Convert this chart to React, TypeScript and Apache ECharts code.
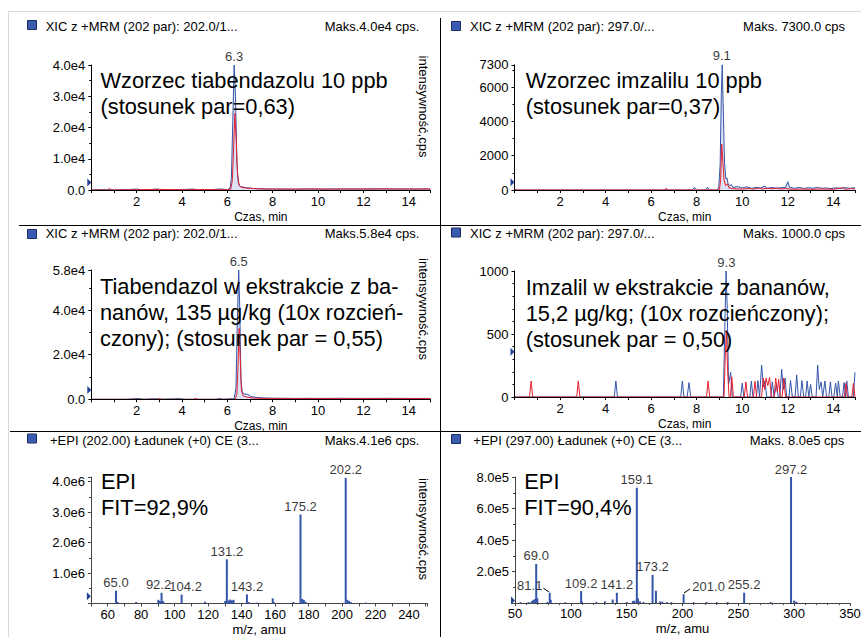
import React, { useEffect, useRef } from "react";
import * as echarts from "echarts";

const FONT = '"Liberation Sans", Arial, Helvetica, sans-serif';
const BLUE = "#3355aa";
const RED = "#e8202e";
const AXIS = "#000";

// ---------- chromatogram data: [time (min), intensity (cps)] ----------
const p1Blue: [number, number][] = [
  [0, 0], [0.5, 150], [1.0, 0], [1.5, 100], [2.0, 300], [2.3, 0], [2.9, 300], [3.2, 0],
  [4.0, 150], [4.5, 300], [4.8, 0], [5.3, 100], [5.7, 350], [6.0, 100], [6.12, 600],
  [6.18, 4000], [6.24, 22000], [6.3, 40000], [6.36, 30000], [6.42, 9000], [6.48, 2500],
  [6.55, 1200], [6.65, 1000], [6.8, 800], [7.0, 600], [7.3, 400], [7.8, 300], [8.5, 300],
  [9.0, 250], [9.5, 350], [10.0, 250], [10.5, 350], [11.0, 300], [11.5, 350], [12.0, 300],
  [12.5, 400], [13.0, 300], [13.5, 350], [14.0, 300], [14.5, 350], [14.95, 300],
];
const p1Red: [number, number][] = [
  [0, 0], [0.7, 0], [0.8, 500], [0.9, 0], [2.0, 100], [3.0, 200], [4.0, 100], [5.0, 150],
  [6.0, 100], [6.15, 300], [6.22, 3000], [6.28, 14000], [6.33, 24500], [6.39, 16000],
  [6.45, 5000], [6.52, 1500], [6.6, 900], [6.75, 700], [7.0, 500], [7.5, 350], [8.0, 300],
  [9.0, 300], [10.0, 350], [10.5, 250], [11.0, 350], [11.5, 300], [12.0, 350], [12.5, 300],
  [13.0, 400], [13.5, 300], [14.0, 350], [14.5, 300], [14.95, 350],
];
const p2Blue: [number, number][] = [
  [0, 0], [7.8, 0], [7.9, 150], [8.0, 0], [8.4, 0], [8.47, 160], [8.55, 0], [8.9, 0],
  [8.97, 200], [9.03, 1500], [9.08, 5500], [9.12, 7300], [9.17, 4500], [9.22, 1600],
  [9.28, 650], [9.33, 700], [9.38, 350], [9.45, 250], [9.52, 320], [9.6, 150], [9.8, 200],
  [10.0, 120], [10.2, 180], [10.4, 100], [10.6, 150], [10.8, 120], [11.0, 220], [11.1, 100],
  [11.3, 150], [11.5, 100], [11.7, 130], [11.9, 150], [12.0, 480], [12.08, 150], [12.3, 100],
  [12.5, 150], [12.7, 90], [12.9, 130], [13.1, 100], [13.3, 150], [13.5, 100], [13.7, 120],
  [13.9, 80], [14.1, 130], [14.3, 100], [14.5, 140], [14.7, 100], [14.95, 130],
];
const p2Red: [number, number][] = [
  [0, 0], [6.6, 0], [6.66, 110], [6.72, 0], [9.0, 0], [9.05, 600], [9.1, 2670], [9.15, 1600],
  [9.2, 600], [9.27, 250], [9.35, 350], [9.42, 120], [9.6, 80], [10.0, 50], [10.3, 90],
  [10.5, 50], [10.7, 110], [10.9, 60], [11.1, 100], [11.3, 70], [11.5, 120], [11.7, 60],
  [11.9, 90], [12.2, 40], [12.6, 60], [13.0, 40], [13.5, 60], [14.0, 40], [14.4, 130],
  [14.5, 40], [14.8, 90], [14.95, 60],
];
const p3Blue: [number, number][] = [
  [0, 0], [1.5, 0], [2.1, 350], [2.3, 0], [2.8, 300], [3.0, 0], [3.9, 300], [4.1, 0],
  [5.5, 0], [5.65, 350], [5.8, 0], [6.3, 300], [6.38, 5000], [6.44, 35000], [6.5, 58000],
  [6.55, 40000], [6.6, 9000], [6.66, 3000], [6.75, 2400], [6.9, 2200], [7.05, 1200],
  [7.3, 800], [7.6, 600], [8.0, 500], [8.5, 450], [9.0, 400], [9.5, 450], [10.0, 400],
  [11.0, 450], [12.0, 400], [13.0, 450], [14.0, 400], [14.95, 400],
];
const p3Red: [number, number][] = [
  [0, 0], [2.9, 0], [3.0, 400], [3.1, 0], [4.5, 0], [4.6, 400], [4.7, 0], [6.35, 0],
  [6.42, 2500], [6.47, 15000], [6.52, 31800], [6.57, 18000], [6.62, 4000], [6.7, 1500],
  [6.85, 1000], [7.1, 600], [7.5, 400], [8.0, 350], [9.0, 300], [10.0, 350], [11.0, 300],
  [12.0, 350], [13.0, 300], [14.0, 350], [14.95, 300],
];
const p4Blue: [number, number][] = [
  [0, 0], [4.38, 0], [4.45, 127], [4.52, 0], [7.3, 0], [7.37, 127], [7.44, 0], [7.58, 0],
  [7.66, 114], [7.74, 0], [9.17, 0], [9.24, 600], [9.29, 1000], [9.34, 700], [9.4, 100],
  [9.49, 196], [9.56, 0], [9.93, 0], [10.0, 110], [10.07, 0], [10.33, 0], [10.4, 127],
  [10.47, 0], [10.62, 0], [10.69, 130], [10.76, 0], [10.85, 254], [10.93, 80], [11.0, 130],
  [11.07, 0], [11.25, 0], [11.32, 120], [11.4, 0], [11.5, 100], [11.58, 0], [11.65, 0],
  [11.73, 220], [11.8, 60], [11.88, 150], [11.95, 0], [12.05, 0], [12.12, 130], [12.2, 0],
  [12.32, 0], [12.39, 175], [12.46, 0], [12.55, 0], [12.62, 130], [12.7, 0], [12.78, 0],
  [12.85, 127], [12.92, 0], [13.0, 100], [13.07, 0], [13.24, 0], [13.31, 254], [13.38, 60],
  [13.46, 120], [13.53, 0], [13.63, 127], [13.7, 0], [13.8, 0], [13.87, 120], [13.94, 0],
  [14.02, 0], [14.1, 110], [14.17, 0], [14.22, 127], [14.3, 0], [14.4, 0], [14.47, 115],
  [14.54, 0], [14.59, 127], [14.66, 0], [14.88, 0], [14.95, 196],
];
const p4Red: [number, number][] = [
  [0, 0], [0.66, 0], [0.73, 127], [0.8, 0], [2.73, 0], [2.8, 127], [2.87, 0], [8.43, 0],
  [8.5, 127], [8.57, 0], [9.2, 0], [9.26, 350], [9.3, 530], [9.36, 200], [9.42, 0],
  [9.48, 0], [9.54, 160], [9.61, 0], [10.09, 0], [10.16, 120], [10.23, 0], [10.49, 0],
  [10.56, 125], [10.63, 0], [10.85, 0], [10.92, 150], [10.98, 60], [11.05, 150], [11.12, 90],
  [11.2, 155], [11.28, 0], [11.4, 0], [11.47, 150], [11.54, 40], [11.6, 140], [11.67, 0],
  [11.75, 0], [11.82, 150], [11.9, 0], [14.48, 0], [14.55, 108], [14.62, 0], [14.81, 0],
  [14.88, 108], [14.95, 0],
];

// chromatogram apex labels [time, intensity]
const p1Apex: [number, number][] = [[6.3, 40000]];
const p2Apex: [number, number][] = [[9.1, 7300]];
const p3Apex: [number, number][] = [[6.5, 58000]];
const p4Apex: [number, number][] = [[9.3, 1000]];

// ---------- EPI spectra: m/z and intensity ----------
const p5Mz = [56, 65.0, 66, 77, 90.3, 91.2, 92.2, 93.2, 104.2, 118.2, 130.2, 131.2, 132.2, 133.2, 134.2, 135.2, 143.2, 144.2, 149, 158.6, 159.2, 171, 175.2, 176.2, 177.2, 178.2, 202.2, 203.2, 204.2, 205.2, 214.2];
const p5Int = [0.02e6, 0.42e6, 0.05e6, 0.05e6, 0.12e6, 0.08e6, 0.35e6, 0.08e6, 0.29e6, 0.06e6, 0.08e6, 1.45e6, 0.1e6, 0.13e6, 0.1e6, 0.12e6, 0.3e6, 0.05e6, 0.03e6, 0.17e6, 0.05e6, 0.05e6, 2.92e6, 0.15e6, 0.12e6, 0.06e6, 4.12e6, 0.12e6, 0.08e6, 0.05e6, 0.03e6];
const p5LabelMz = [65.0, 92.2, 104.2, 131.2, 143.2, 175.2, 202.2];
const p5LabelInt = [0.42e6, 0.35e6, 0.29e6, 1.45e6, 0.3e6, 2.92e6, 4.12e6];

const p6Mz = [55, 62, 65, 66.5, 68, 69.0, 70, 79, 81.1, 82, 95, 109.2, 110, 123, 130.6, 137.5, 141.2, 150, 155.6, 157, 159.1, 160.1, 161.9, 165, 173.2, 176.2, 180, 182, 186, 190, 201.0, 210, 221.6, 230.6, 240.4, 255.2, 279, 297.2, 300, 302];
const p6Int = [0.05e5, 0.06e5, 0.12e5, 0.2e5, 0.25e5, 2.48e5, 0.3e5, 0.06e5, 0.65e5, 0.2e5, 0.05e5, 0.76e5, 0.1e5, 0.06e5, 0.1e5, 0.22e5, 0.65e5, 0.06e5, 0.12e5, 0.15e5, 7.32e5, 0.3e5, 0.1e5, 0.06e5, 1.78e5, 0.78e5, 0.1e5, 0.08e5, 0.06e5, 0.05e5, 0.55e5, 0.05e5, 0.06e5, 0.05e5, 0.06e5, 0.65e5, 0.06e5, 8.0e5, 0.15e5, 0.08e5];
const p6LabelMz = [69.0, 81.1, 109.2, 141.2, 159.1, 173.2, 201.0, 255.2, 297.2];
const p6LabelInt = [2.48e5, 0.65e5, 0.76e5, 0.65e5, 7.32e5, 1.78e5, 0.55e5, 0.65e5, 8.0e5];

// threshold markers (intensity level of the small triangle on each y-axis)
const markerLevels = [2400, 450, 4170, 360, 0.236e6, 0.16e5];

// texts
const titles = [
  "XIC z +MRM (202 par): 202.0/1...",
  "XIC z +MRM (202 par): 297.0/...",
  "XIC z +MRM (202 par): 202.0/1...",
  "XIC z +MRM (202 par): 297.0/...",
  "+EPI (202.00) Ładunek (+0) CE (3...",
  "+EPI (297.00) Ładunek (+0) CE (3...",
];
const maxTexts = ["Maks.4.0e4 cps.", "Maks. 7300.0 cps", "Maks.5.8e4 cps.", "Maks. 1000.0 cps", "Maks.4.1e6 cps.", "Maks. 8.0e5 cps"];
const notes = [
  ["Wzorzec tiabendazolu 10 ppb", "(stosunek par=0,63)"],
  ["Wzorzec imzalilu 10 ppb", "(stosunek par=0,37)"],
  ["Tiabendazol w ekstrakcie z ba-", "nanów, 135 µg/kg (10x rozcień-", "czony); (stosunek par = 0,55)"],
  ["Imzalil w ekstrakcie z bananów,", "15,2 µg/kg; (10x rozcieńczony);", "(stosunek par = 0,50)"],
  ["EPI", "FIT=92,9%"],
  ["EPI", "FIT=90,4%"],
];

const fmtExp = (v: number) => (v === 0 ? "0.0" : v.toExponential(1).replace("e+", "e"));

function buildOption() {
  const grids = [
    { left: 91.3, top: 65, width: 339, height: 125 },
    { left: 514.5, top: 64.8, width: 340.5, height: 125.2 },
    { left: 91.3, top: 270, width: 339, height: 129.3 },
    { left: 514.5, top: 271, width: 340.5, height: 126 },
    { left: 90.9, top: 477, width: 336.5, height: 126.5 },
    { left: 515, top: 477, width: 335, height: 126 },
  ].map((g) => ({ ...g, outerBoundsMode: "none", containLabel: false, show: false }));

  const labelStyle = { fontSize: 13, color: "#000", fontFamily: FONT };

  const chromX = (gi: number) => ({
    type: "value", gridIndex: gi, min: 0, max: 14.95, interval: 1, z: 3,
    axisLine: { show: true, lineStyle: { color: AXIS, width: 1 } },
    axisTick: { show: true, length: 3, lineStyle: { color: AXIS } },
    axisLabel: {
      show: true, interval: 0, margin: 5, ...labelStyle,
      formatter: (v: number) => (v > 0 && Math.abs(v % 2) < 1e-9 ? String(v) : ""),
    },
    splitLine: { show: false },
    name: "Czas, min", nameLocation: "middle", nameGap: 21,
    nameTextStyle: { fontSize: 12, color: "#000", fontFamily: FONT },
  });
  const yAx = (gi: number, max: number, interval: number, minor: number, fmt: (v: number) => string, color = AXIS) => ({
    type: "value", gridIndex: gi, min: 0, max, interval, z: 3,
    axisLine: { show: true, lineStyle: { color, width: 1 } },
    axisTick: { show: true, length: 3, lineStyle: { color } },
    minorTick: { show: true, splitNumber: minor, length: 2, lineStyle: { color } },
    axisLabel: { show: true, margin: 6, ...labelStyle, formatter: fmt },
    splitLine: { show: false },
    minorSplitLine: { show: false },
  });

  const SPEC_AXIS = "#444";
  const xAxis = [
    chromX(0), chromX(1), chromX(2), chromX(3),
    {
      type: "value", gridIndex: 4, min: 50, max: 251, interval: 10,
      axisLine: { show: true, lineStyle: { color: SPEC_AXIS, width: 1 } },
      axisTick: { show: true, length: 3, lineStyle: { color: SPEC_AXIS } },
      axisLabel: {
        show: true, interval: 0, margin: 4, ...labelStyle,
        formatter: (v: number) => (v >= 60 && v <= 240 && v % 20 === 0 ? String(v) : ""),
      },
      splitLine: { show: false },
      name: "m/z, amu", nameLocation: "middle", nameGap: 19,
      nameTextStyle: { fontSize: 13, color: "#000", fontFamily: FONT },
    },
    {
      type: "value", gridIndex: 5, min: 50, max: 350, interval: 50,
      axisLine: { show: true, lineStyle: { color: SPEC_AXIS, width: 1 } },
      axisTick: { show: true, length: 3, lineStyle: { color: SPEC_AXIS } },
      minorTick: { show: true, splitNumber: 5, length: 2, lineStyle: { color: SPEC_AXIS } },
      axisLabel: { show: true, interval: 0, margin: 4, ...labelStyle },
      splitLine: { show: false },
      minorSplitLine: { show: false },
      name: "m/z, amu", nameLocation: "middle", nameGap: 19,
      nameTextStyle: { fontSize: 13, color: "#000", fontFamily: FONT },
    },
  ];
  const yAxis = [
    yAx(0, 40000, 10000, 2, fmtExp),
    yAx(1, 7300, 2000, 2, (v) => String(v)),
    yAx(2, 58000, 20000, 2, fmtExp),
    yAx(3, 1000, 500, 5, (v) => String(v)),
    yAx(4, 4.15e6, 1e6, 2, (v) => (v > 0 && v % 1e6 === 0 ? fmtExp(v) : ""), SPEC_AXIS),
    yAx(5, 8e5, 2e5, 2, (v) => (v > 0 ? fmtExp(v) : ""), SPEC_AXIS),
  ];

  const marker = (gi: number, x0: number) => ({
    symbol: "triangle", symbolSize: [8, 4], symbolRotate: -90, symbolOffset: [-2, 0],
    itemStyle: { color: "#233f95" }, label: { show: false }, silent: true,
    data: [{ coord: [x0, markerLevels[gi]] }],
  });

  const line = (gi: number, data: [number, number][], color: string, withMarker = false, halo = false) => ({
    type: "line", xAxisIndex: gi, yAxisIndex: gi, data, symbol: "none", silent: true,
    lineStyle: { color, width: 1 }, itemStyle: { color }, z: 2,
    ...(halo ? { areaStyle: { color: "rgba(80,110,200,0.28)" } } : {}),
    ...(withMarker ? { markPoint: marker(gi, 0) } : {}),
  });

  const apex = (gi: number, data: [number, number][]) => ({
    type: "scatter", xAxisIndex: gi, yAxisIndex: gi, data, symbolSize: 1, silent: true,
    itemStyle: { color: "rgba(0,0,0,0)" }, z: 5,
    label: {
      show: true, position: "top", distance: 2, ...labelStyle,
      formatter: (p: any) => Number(p.value[0]).toFixed(1),
    },
  });

  const bars = (gi: number, mz: number[], ints: number[]) => ({
    type: "bar", xAxisIndex: gi, yAxisIndex: gi, barWidth: 2, silent: true,
    data: mz.map((m, i) => [m, ints[i]]),
    itemStyle: { color: BLUE }, z: 2,
    markPoint: marker(gi, 50),
  });

  const specLabels = (gi: number, mz: number[], ints: number[], offsets: Record<string, [number, number]>, leaders: any[]) => ({
    type: "scatter", xAxisIndex: gi, yAxisIndex: gi, symbolSize: 1, silent: true,
    itemStyle: { color: "rgba(0,0,0,0)" }, z: 5,
    data: mz.map((m, i) => {
      const off = offsets[m.toFixed(1)];
      return off ? { value: [m, ints[i]], label: { offset: off } } : { value: [m, ints[i]] };
    }),
    label: {
      show: true, position: "top", distance: 1, ...labelStyle,
      formatter: (p: any) => Number(p.value[0]).toFixed(1),
    },
    markLine: {
      silent: true, symbol: ["none", "none"], label: { show: false },
      lineStyle: { color: "#000", width: 1, type: "solid" },
      data: leaders,
    },
  });

  const series: any[] = [
    line(0, p1Blue, BLUE, true, true), line(0, p1Red, RED), apex(0, p1Apex),
    line(1, p2Blue, BLUE, true, true), line(1, p2Red, RED), apex(1, p2Apex),
    line(2, p3Blue, BLUE, true, true), line(2, p3Red, RED), apex(2, p3Apex),
    line(3, p4Blue, BLUE, true), line(3, p4Red, RED), apex(3, p4Apex),
    bars(4, p5Mz, p5Int),
    specLabels(4, p5LabelMz, p5LabelInt, { "92.2": [-3, 0], "104.2": [4, 0] }, []),
    bars(5, p6Mz, p6Int),
    specLabels(5, p6LabelMz, p6LabelInt, { "81.1": [-20, 1], "201.0": [25, 0] }, [
      [{ coord: [80.5, 0.7e5] }, { coord: [75.5, 0.93e5] }],
      [{ coord: [201.3, 0.63e5] }, { coord: [206.7, 0.89e5] }],
    ]),
  ];

  // ---------- decoration ----------
  const g: any[] = [
    { type: "line", shape: { x1: 8, y1: 11.5, x2: 861, y2: 11.5 }, style: { stroke: "#d9d9d9", lineWidth: 1 } },
    { type: "line", shape: { x1: 8.5, y1: 11, x2: 8.5, y2: 637 }, style: { stroke: "#d9d9d9", lineWidth: 1 } },
    { type: "line", shape: { x1: 19, y1: 225.5, x2: 861, y2: 225.5 }, style: { stroke: "#000", lineWidth: 1 } },
    { type: "line", shape: { x1: 10, y1: 431.5, x2: 861, y2: 431.5 }, style: { stroke: "#000", lineWidth: 1 } },
    { type: "line", shape: { x1: 440.5, y1: 18, x2: 440.5, y2: 637 }, style: { stroke: "#000", lineWidth: 1 } },
  ];
  const sq = [[27, 20], [451, 21], [27, 229], [451, 227.5], [27, 433.5], [451, 434]];
  const titleY = [26, 26, 233.3, 233.3, 440, 440];
  const titleX = [45.7, 470, 45.7, 470, 50, 473.3];
  const maxX = [419.3, 845, 419.3, 845, 419.3, 844.3];
  for (let i = 0; i < 6; i++) {
    g.push({ type: "rect", shape: { x: sq[i][0] + 0.5, y: sq[i][1] + 0.5, width: 9, height: 9 }, style: { fill: "#3b5bb0", stroke: "#1c2c60", lineWidth: 1 } });
    g.push({ type: "text", x: titleX[i], y: titleY[i], style: { text: titles[i], fontSize: 13, fontFamily: FONT, fill: "#000", align: "left", verticalAlign: "middle" } });
    g.push({ type: "text", x: maxX[i], y: titleY[i], style: { text: maxTexts[i], fontSize: 13, fontFamily: FONT, fill: "#000", align: "right", verticalAlign: "middle" } });
  }
  const noteX = [100.5, 525.7, 100, 525.7, 101, 524.3];
  const noteY = [80.5, 80.5, 286.7, 287.3, 481.7, 481];
  for (let i = 0; i < 6; i++) {
    g.push({
      type: "text", x: noteX[i], y: noteY[i] - 13, z: 10,
      style: { text: notes[i].join("\n"), fontSize: 21.8, lineHeight: 26, fontFamily: FONT, fill: "#000", align: "left", verticalAlign: "top" },
    });
  }
  const rotY = [106.5, 309, 529];
  for (const ry of rotY) {
    g.push({
      type: "text", x: 423, y: ry, rotation: -Math.PI / 2,
      style: { text: "intensywność,cps", fontSize: 13, fontFamily: FONT, fill: "#000", align: "center", verticalAlign: "middle" },
    });
  }

  return {
    animation: false,
    backgroundColor: "#fff",
    textStyle: { fontFamily: FONT },
    grid: grids,
    xAxis,
    yAxis,
    series,
    graphic: { elements: g },
  };
}

export default function App() {
  const ref = useRef<HTMLDivElement>(null);
  useEffect(() => {
    document.body.style.margin = "0";
    const chart = echarts.init(ref.current!, null, { renderer: "svg" });
    chart.setOption(buildOption() as any);
    return () => chart.dispose();
  }, []);
  return <div ref={ref} style={{ width: 861, height: 637 }} />;
}
